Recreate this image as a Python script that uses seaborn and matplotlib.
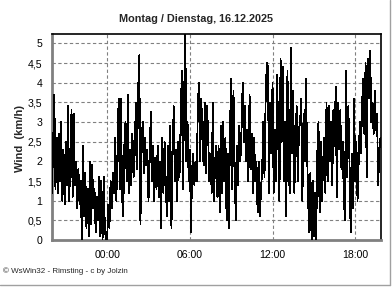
import matplotlib
matplotlib.use("Agg")
import matplotlib.pyplot as plt
import numpy as np
import pandas as pd
import seaborn as sns
from matplotlib.ticker import FixedLocator, MultipleLocator, FixedFormatter
from matplotlib.lines import Line2D

# ---------------- data ----------------
title = "Montag / Dienstag, 16.12.2025"
y_label = "Wind  (km/h)"
footer = "\u00a9 WsWin32 - Rimsting - c by Jolzin"
start_hour = 20          # first sample at 20:00 of the previous day
step_minutes = 5
x_tick_labels = ["00:00", "06:00", "12:00", "18:00"]
y_tick_values = [0, 0.5, 1, 1.5, 2, 2.5, 3, 3.5, 4, 4.5, 5]
y_tick_labels = ["0", "0,5", "1", "1,5", "2", "2,5", "3", "3,5", "4", "4,5", "5"]

w20 = [1.2, 2.5, 3.7, 1.3, 2.6, 1.2, 2.7, 1.5, 3.0, 1.0, 2.3, 0.9]
w21 = [2.5, 1.4, 3.4, 1.0, 2.2, 3.3, 1.1, 3.2, 1.4, 2.0, 0.8, 1.8]
w22 = [0.9, 1.5, 0.0, 2.4, 0.6, 1.7, 0.3, 1.3, 0.1, 2.0, 0.4, 1.9]
w23 = [0.8, 1.3, 0.2, 1.1, 0.5, 1.6, 0.1, 1.5, 0.0, 1.6, 0.3, 0.0]
w00 = [0.0, 0.9, 0.3, 1.5, 0.8, 1.7, 1.2, 2.6, 1.0, 2.2, 3.6, 1.3]
w01 = [3.6, 1.1, 0.6, 2.4, 3.0, 1.5, 3.7, 1.2, 2.3, 1.4, 2.7, 1.6]
w02 = [2.2, 3.5, 1.8, 3.8, 4.7, 0.4, 2.5, 3.0, 1.7, 2.6, 1.9, 2.3]
w03 = [1.0, 2.0, 3.25, 1.5, 2.4, 1.0, 2.1, 1.3, 2.4, 1.1, 2.0, 0.3]
w04 = [2.6, 1.2, 2.5, 1.5, 0.6, 2.4, 1.0, 2.9, 0.3, 2.2, 3.4, 1.5]
w05 = [2.3, 1.0, 2.5, 1.6, 3.0, 4.3, 1.3, 3.5, 5.4, 2.0, 3.0, 1.5]
w06 = [2.3, 0.2, 1.8, 2.2, 1.4, 2.0, 1.5, 3.5, 4.0, 2.0, 3.6, 2.5]
w07 = [1.9, 3.5, 1.7, 3.4, 2.6, 1.5, 2.2, 1.2, 3.5, 1.0, 2.0, 2.4]
w08 = [1.1, 2.4, 0.7, 2.9, 1.2, 3.0, 1.5, 2.6, 0.5, 2.2, 0.3, 2.9]
w09 = [4.1, 1.3, 3.8, 1.9, 0.5, 2.4, 1.4, 2.9, 2.0, 2.8, 4.0, 2.5]
w10 = [3.4, 2.0, 2.8, 1.5, 3.7, 1.8, 2.7, 1.2, 2.6, 1.5, 2.0, 0.7]
w11 = [2.0, 0.6, 1.3, 1.8, 3.0, 1.6, 3.6, 4.5, 4.4, 1.2, 3.5, 2.2]
w12 = [4.0, 1.2, 2.8, 1.5, 4.2, 2.5, 1.0, 4.6, 2.5, 4.4, 1.5, 3.0]
w13 = [0.6, 4.3, 1.8, 1.2, 4.9, 2.2, 3.8, 1.2, 2.5, 3.4, 1.5, 2.8]
w14 = [3.0, 3.6, 1.0, 3.2, 2.0, 4.1, 2.4, 1.0, 0.2, 1.7, 0.0, 1.5]
w15 = [0.1, 1.2, 0.0, 2.2, 3.0, 0.7, 2.5, 1.0, 1.9, 2.6, 1.2, 3.5]
w16 = [1.5, 3.4, 2.0, 3.0, 1.4, 3.3, 2.4, 3.9, 1.1, 3.5, 2.3, 3.3]
w17 = [1.8, 2.5, 1.2, 0.5, 4.3, 1.6, 3.4, 2.0, 0.2, 2.2, 0.8, 3.6]
w18 = [1.5, 2.5, 1.0, 2.0, 3.0, 2.2, 3.5, 4.1, 2.7, 4.5, 1.6, 4.6]
w19 = [3.6, 4.8, 3.0, 3.5, 2.7, 3.8, 2.8, 3.2, 1.4, 2.3, 2.6]

wind = (w20 + w21 + w22 + w23 + w00 + w01 + w02 + w03 + w04 + w05 + w06 + w07 +
        w08 + w09 + w10 + w11 + w12 + w13 + w14 + w15 + w16 + w17 + w18 + w19)

df = pd.DataFrame({
    "hours": np.arange(len(wind)) * step_minutes / 60.0,
    "wind": wind,
})

# ---------------- style ----------------
sns.set_style("white")
plt.rcParams["font.family"] = ["Liberation Sans", "DejaVu Sans"]

W, H = 392, 287
fig = plt.figure(figsize=(W / 100, H / 100), dpi=100)
fig.patch.set_facecolor("white")
left, right, top, bottom = 52, 381, 34, 240
ax = fig.add_axes([left / W, 1 - bottom / H, (right - left) / W, (bottom - top) / H])
ax.set_facecolor("white")

grid_col = "#808080"
ax.set_axisbelow(True)

sns.lineplot(data=df, x="hours", y="wind", ax=ax, color="black",
             linewidth=0.6, antialiased=False, zorder=3)

ax.set_xlim(0, 23.87)
ax.set_ylim(0, 5.24)

# x ticks from the labels (hours since start)
x_pos = [((int(lbl[:2]) - start_hour) % 24) for lbl in x_tick_labels]
ax.xaxis.set_major_locator(FixedLocator(x_pos))
ax.xaxis.set_major_formatter(FixedFormatter(x_tick_labels))
ax.xaxis.set_minor_locator(MultipleLocator(1))
ax.yaxis.set_major_locator(FixedLocator(y_tick_values))
ax.yaxis.set_major_formatter(FixedFormatter(y_tick_labels))
ax.yaxis.set_minor_locator(MultipleLocator(0.1))

ax.tick_params(axis="both", which="major", direction="out", length=4,
               width=1, color=grid_col, labelsize=7.6, labelcolor="black", pad=3)
ax.tick_params(axis="both", which="minor", direction="out", length=2,
               width=0.8, color=grid_col)
ax.tick_params(axis="x", which="major", pad=3)

ax.grid(True, which="major", color=grid_col, linestyle=(0, (3, 2.2)), linewidth=0.8)
ax.grid(False, which="minor")

for side in ("left", "bottom"):
    ax.spines[side].set_color(grid_col)
    ax.spines[side].set_linewidth(2)
for side in ("top", "right"):
    ax.spines[side].set_color("black")
    ax.spines[side].set_linewidth(1.2)
    ax.spines[side].set_visible(True)

ax.set_xlabel("")
ax.set_ylabel("")
fig.text(20 / W, 1 - 138 / H, y_label, rotation=90, ha="center", va="center",
         fontsize=8, fontweight="bold")

fig.text(196 / W, 1 - 19 / H, title, ha="center", va="center",
         fontsize=7.8, fontweight="bold")
fig.text(3 / W, 1 - 271 / H, footer, ha="left", va="center", fontsize=5.8)

# outer frame of the picture (right and bottom edge)
fig.add_artist(Line2D([389.5 / W, 389.5 / W], [1 - 284.5 / H, 1], transform=fig.transFigure,
                      color="#a0a0a0", linewidth=1))
fig.add_artist(Line2D([0, 389.5 / W], [1 - 284.5 / H, 1 - 284.5 / H], transform=fig.transFigure,
                      color="#a0a0a0", linewidth=1))

fig.savefig("out.png", dpi=100, facecolor="white")
